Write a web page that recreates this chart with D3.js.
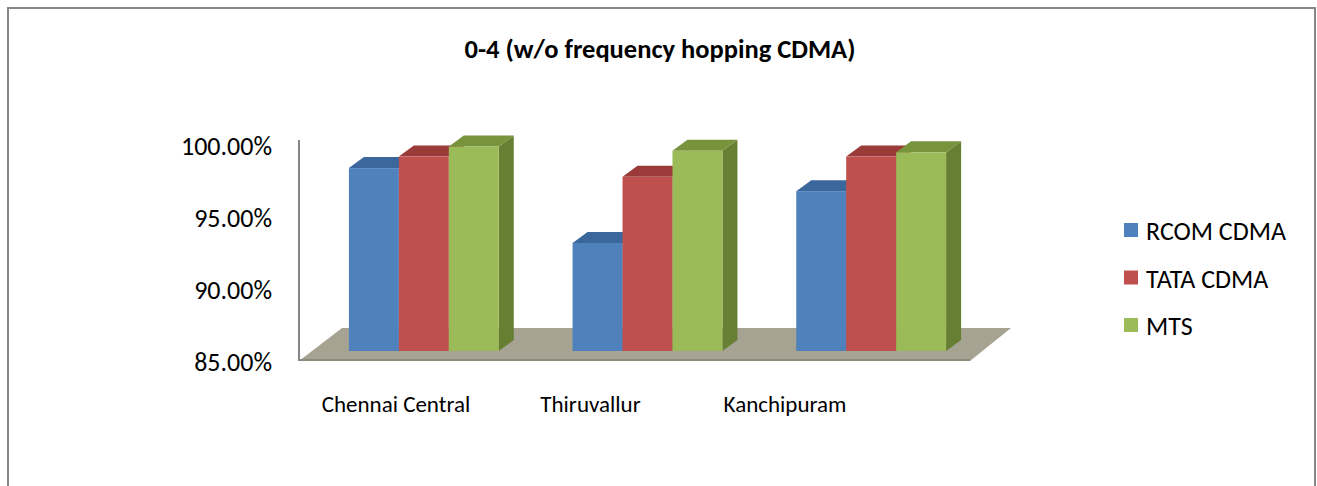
<!DOCTYPE html>
<html lang="en">
<head>
<meta charset="utf-8">
<script src="https://d3js.org/d3.v7.min.js"></script>
<style>
  body { margin: 0; background: #fff; }
  text { font-family: Carlito, Calibri, Lato, "Open Sans", sans-serif; fill: #000; }
</style>
</head>
<body>
<script>
  var width = 1317;
  var height = 486;

  // chart data
  var categories = ["Chennai Central", "Thiruvallur", "Kanchipuram"];
  var seriesNames = ["RCOM CDMA", "TATA CDMA", "MTS"];
  var rcomValues = [97.7, 92.5, 96.1];
  var tataValues = [98.5, 97.1, 98.5];
  var mtsValues = [99.2, 98.9, 98.8];
  var yTicks = [85, 90, 95, 100];

  var seriesValues = [rcomValues, tataValues, mtsValues];
  var frontColours = ["#4f81bd", "#c0504d", "#9bbb59"];
  var topColours = ["#3c679c", "#9a3b39", "#77933c"];
  var sideColours = ["#385d8a", "#8c3836", "#667f33"];

  var shiftX = 13, shiftY = 10;   // bar row sits a bit back on the floor
  var boxDX = 15, boxDY = 11;     // depth of each bar
  var floorDX = 43, floorDY = 33; // depth of the floor

  var svg = d3.select("body")
              .append("svg")
              .attr("width", width)
              .attr("height", height);

  // outer frame
  svg.append("rect")
     .attr("x", 8).attr("y", 8)
     .attr("width", 1307).attr("height", 520)
     .attr("fill", "none")
     .attr("stroke", "#878787")
     .attr("stroke-width", 2);

  svg.append("text")
     .attr("x", 660).attr("y", 58)
     .attr("text-anchor", "middle")
     .attr("font-size", 26.5)
     .attr("font-weight", "bold")
     .text("0-4 (w/o frequency hopping CDMA)");

  var x0 = d3.scaleBand()
             .domain(categories)
             .range([299, 970])
             .paddingInner(0.33)
             .paddingOuter(0.165);

  var x1 = d3.scaleBand()
             .domain(seriesNames)
             .range([0, x0.bandwidth()]);

  var y = d3.scaleLinear()
            .domain([85, 100])
            .range([361, 145]);

  // floor
  var fl = x0.range()[0], fr = x0.range()[1], fy = y(85);
  svg.append("polygon")
     .attr("points", [[fl, fy], [fl + floorDX, fy - floorDY], [fr + floorDX - 2, fy - floorDY], [fr, fy]].join(" "))
     .attr("fill", "#a6a392");
  svg.append("line")
     .attr("x1", fl).attr("x2", fr)
     .attr("y1", fy - 1).attr("y2", fy - 1)
     .attr("stroke", "#8d8b7d")
     .attr("stroke-width", 2);

  // vertical axis line
  svg.append("line")
     .attr("x1", fl).attr("x2", fl)
     .attr("y1", y(100.35)).attr("y2", fy)
     .attr("stroke", "#868686")
     .attr("stroke-width", 2);

  // tick labels
  svg.selectAll(".ytick")
     .data(yTicks)
     .enter()
     .append("text")
     .attr("class", "ytick")
     .attr("x", 272)
     .attr("y", function(d) { return y(d) + 1; })
     .attr("dy", "0.35em")
     .attr("text-anchor", "end")
     .attr("font-size", 26)
     .text(function(d) { return d.toFixed(2) + "%"; });

  // bars
  categories.forEach(function(cat, ci) {
    seriesNames.forEach(function(s, si) {
      var v = seriesValues[si][ci];
      var bx = x0(cat) + x1(s) + shiftX;
      var bw = x1.bandwidth();
      var top = y(v) - shiftY;
      var bottom = y(85) - shiftY;
      var g = svg.append("g");
      g.append("polygon")
       .attr("points", [[bx + bw, top], [bx + bw + boxDX, top - boxDY], [bx + bw + boxDX, bottom - boxDY], [bx + bw, bottom]].join(" "))
       .attr("fill", sideColours[si]);
      g.append("polygon")
       .attr("points", [[bx, top], [bx + boxDX, top - boxDY], [bx + bw + boxDX, top - boxDY], [bx + bw, top]].join(" "))
       .attr("fill", topColours[si]);
      g.append("rect")
       .attr("x", bx).attr("y", top)
       .attr("width", bw).attr("height", bottom - top)
       .attr("fill", frontColours[si]);
    });
  });

  // category labels (placed a little inward, as in the original perspective)
  var xLabel = d3.scalePoint()
                 .domain(categories)
                 .range([396, 785]);
  svg.selectAll(".xlabel")
     .data(categories)
     .enter()
     .append("text")
     .attr("class", "xlabel")
     .attr("x", function(d) { return xLabel(d); })
     .attr("y", 404)
     .attr("dy", "0.35em")
     .attr("text-anchor", "middle")
     .attr("font-size", 23)
     .text(function(d) { return d; });

  // legend
  var legend = svg.selectAll(".legend")
                  .data(seriesNames)
                  .enter()
                  .append("g")
                  .attr("class", "legend")
                  .attr("transform", function(d, i) { return "translate(1124," + (230 + i * 47.5) + ")"; });
  legend.append("rect")
        .attr("x", 0).attr("y", -7)
        .attr("width", 14).attr("height", 14)
        .attr("fill", function(d, i) { return frontColours[i]; });
  legend.append("text")
        .attr("x", 22).attr("y", 1)
        .attr("dy", "0.35em")
        .attr("font-size", 26)
        .text(function(d) { return d; });
</script>
</body>
</html>
